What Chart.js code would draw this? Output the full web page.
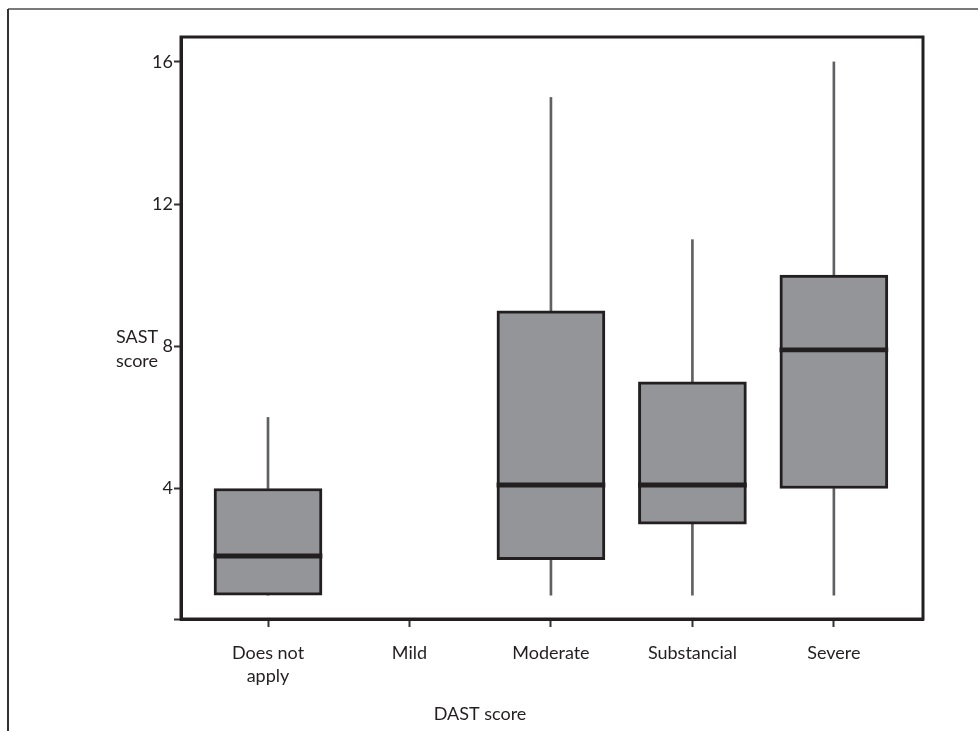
<!DOCTYPE html>
<html>
<head>
<meta charset="utf-8">
<script src="https://cdn.jsdelivr.net/npm/chart.js@4/dist/chart.umd.min.js"></script>
<style>
  html, body { margin: 0; padding: 0; background: #fff; }
  #wrap { position: relative; width: 978px; height: 731px; }
</style>
</head>
<body>
<div id="wrap"><canvas id="boxChart" width="978" height="731"></canvas></div>
<script>
const categories = [['Does not', 'apply'], 'Mild', 'Moderate', 'Substancial', 'Severe']
const whiskerLow = [1, null, 1, 1, 1]
const quart1 = [1, null, 2, 3, 4]
const medians = [2.1, null, 4.1, 4.1, 7.9]
const quart3 = [4, null, 9, 7, 10]
const whiskerHigh = [6, null, 15, 11, 16]
const yTicks = [4, 8, 12, 16]

const fontName = 'Lato, "Open Sans", sans-serif'
const ink = '#231f20'

const pts = (lo, hi) => lo.map((v, i) => v == null ? null : { x: i, y: [v, hi[i]] }).filter(p => p)

const frame = {
   id: 'frame',
   beforeDraw(chart) {
      const ctx = chart.ctx
      ctx.save()
      ctx.strokeStyle = '#7a7a7a'
      ctx.lineWidth = 2
      ctx.beginPath(); ctx.moveTo(8, 9); ctx.lineTo(978, 9); ctx.stroke()
      ctx.strokeStyle = '#333'
      ctx.beginPath(); ctx.moveTo(8, 9); ctx.lineTo(8, 731); ctx.stroke()
      ctx.restore()
   },
   afterDraw(chart) {
      const a = chart.chartArea
      const ctx = chart.ctx
      ctx.save()
      ctx.strokeStyle = ink
      ctx.lineWidth = 3
      ctx.strokeRect(a.left, a.top, a.right - a.left, a.bottom - a.top)
      ctx.fillStyle = ink
      ctx.font = '18px ' + fontName
      ctx.textAlign = 'center'
      ctx.textBaseline = 'middle'
      ctx.fillText('SAST', 137, 337)
      ctx.fillText('score', 137, 361)
      ctx.fillText('DAST score', 480, 714)
      ctx.restore()
   }
}

new Chart(document.getElementById('boxChart').getContext('2d'), {
   type: 'bar',
   data: {
      datasets: [
         {
            label: 'median',
            data: medians.map((m, i) => m == null ? null : { x: i, y: [m - 0.06, m + 0.06] }).filter(p => p),
            backgroundColor: ink,
            barThickness: 108,
            grouped: false
         },
         {
            label: 'box',
            data: pts(quart1, quart3),
            backgroundColor: '#939598',
            borderColor: ink,
            borderWidth: 3,
            borderSkipped: false,
            barThickness: 108,
            grouped: false
         },
         {
            label: 'upper',
            data: pts(quart3, whiskerHigh),
            backgroundColor: '#5f6062',
            barThickness: 2,
            grouped: false
         },
         {
            label: 'lower',
            data: pts(whiskerLow, quart1),
            backgroundColor: '#5f6062',
            barThickness: 2,
            grouped: false
         }
      ]
   },
   options: {
      responsive: false,
      animation: false,
      layout: { padding: { top: 37, right: 55, left: 0, bottom: 0 } },
      plugins: { legend: { display: false }, tooltip: { enabled: false } },
      scales: {
         x: {
            type: 'linear',
            offset: false,
            min: -0.615,
            max: 4.63,
            afterBuildTicks: s => { s.ticks = categories.map((c, i) => ({ value: i })) },
            afterFit: s => { s.height = 112 },
            grid: { offset: false, drawOnChartArea: false, tickLength: 8, tickWidth: 2, tickColor: '#333' },
            border: { color: ink, width: 3 },
            ticks: {
               autoSkip: false,
               maxRotation: 0,
               padding: 14,
               color: ink,
               font: { family: fontName, size: 18, lineHeight: 1.3 },
               callback: v => categories[v]
            }
         },
         y: {
            min: 0.33,
            max: 16.7,
            afterBuildTicks: s => { s.ticks = [0.33, ...yTicks].map(v => ({ value: v })) },
            afterFit: s => { s.width = 181 },
            grid: { drawOnChartArea: false, tickLength: 7, tickWidth: 2, tickColor: '#333' },
            border: { color: ink, width: 3 },
            ticks: {
               padding: 1,
               color: ink,
               font: { family: fontName, size: 18 },
               callback: v => yTicks.includes(v) ? v : ''
            }
         }
      }
   },
   plugins: [frame]
})
</script>
</body>
</html>
